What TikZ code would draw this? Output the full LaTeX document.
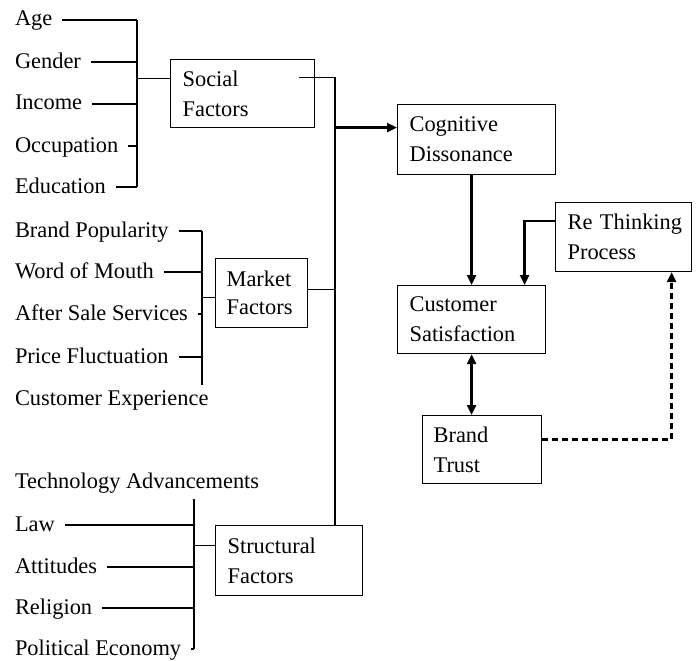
\documentclass[tikz,border=0pt]{standalone}
\usepackage{fontspec}
\setmainfont{Liberation Serif}
\usetikzlibrary{arrows.meta,calc}
\begin{document}
\begin{tikzpicture}[x=1pt,y=-1pt,
  ln/.style={line width=1.2pt},
  arr/.style={line width=2.4pt,-{Triangle[length=10pt,width=9pt]}},
  dbl/.style={line width=2.4pt,{Triangle[length=10pt,width=9pt]}-{Triangle[length=10pt,width=9pt]}},
  item/.style={anchor=base west,inner sep=0pt,outer xsep=10pt,text height=15pt,text depth=3pt,font=\fontsize{22.4}{30}\selectfont},
  box/.style={draw,line width=1.2pt,anchor=north west,align=left,inner xsep=12pt,inner ysep=0pt,font=\fontsize{22.4}{30}\selectfont}]
\useasboundingbox (0,0) rectangle (696,661);

% buses
\coordinate (sbus) at (137,0);
\coordinate (mkbus) at (202,0);
\coordinate (stbus) at (194,0);
\coordinate (mbus) at (335,0);

% social items
\node[item] (age) at (5,26) {Age};
\node[item] (gender) at (5,68) {Gender};
\node[item] (income) at (5,110) {Income};
\node[item] (occ) at (5,152) {Occupation};
\node[item] (edu) at (5,193) {Education};

% market items
\node[item] (bpop) at (5,237) {Brand Popularity};
\node[item] (wom) at (5,278) {Word of Mouth};
\node[item] (ass) at (5,320) {After Sale Services};
\node[item] (price) at (5,363) {Price Fluctuation};
\node[item] (cexp) at (5,405) {Customer Experience};

% structural items
\node[item] (tech) at (5,488) {Technology Advancements};
\node[item] (law) at (5,531) {Law};
\node[item] (att) at (5,573) {Attitudes};
\node[item] (rel) at (5,614) {Religion};
\node[item] (pol) at (5,655) {Political Economy};

% boxes
\node[box,text width=120pt,minimum height=68pt] (social) at (170,59) {Social\\Factors};
\node[box,inner xsep=11pt,text width=70pt,minimum height=69pt,font=\fontsize{22.4}{28}\selectfont] (market) at (215,258) {Market\\Factors};
\node[box,text width=123pt,minimum height=70pt] (structural) at (215,525) {Structural\\Factors};
\node[box,text width=134pt,minimum height=70pt] (cog) at (397,104) {Cognitive\\Dissonance};
\node[box,text width=124pt,minimum height=68pt] (cust) at (397,285) {Customer\\Satisfaction};
\node[box,text width=112pt,minimum height=69pt] (re) at (555,202) {\mbox{Re Thinking}\\Process};
\node[box,inner xsep=11pt,text width=97pt,minimum height=68pt] (brand) at (422,415) {Brand\\Trust};

% social connectors
\foreach \n in {age,gender,income,occ,edu} \draw[ln] (\n.east) -- (\n.east -| sbus);
\draw[ln] (sbus |- age.east) -- (sbus |- edu.east);
\coordinate (sin) at ([yshift=15pt]social.west);
\draw[ln] (sin -| sbus) -- (sin);

% market connectors
\foreach \n in {bpop,wom,ass,price} \draw[ln] (\n.east) -- (\n.east -| mkbus);
\coordinate (mkend) at ([yshift=5pt]cexp.north);
\draw[ln] (mkbus |- bpop.east) -- (mkbus |- mkend);
\coordinate (min) at ([yshift=-4pt]market.west);
\draw[ln] (min -| mkbus) -- (min);

% structural connectors
\foreach \n in {law,att,rel,pol} \draw[ln] (\n.east) -- (\n.east -| stbus);
\coordinate (sttop) at ([yshift=-8pt]tech.south);
\draw[ln] (stbus |- sttop) -- (stbus |- pol.east);
\coordinate (stin) at ([yshift=15pt]structural.west);
\draw[ln] (stin -| stbus) -- (stin);

% main bus
\coordinate (sout) at ([xshift=-16pt,yshift=16pt]social.east);
\draw[ln] (sout) -| (structural.north -| mbus);
\coordinate (mout) at ([yshift=4pt]market.east);
\draw[ln] (mout) -- (mout -| mbus);

% right side
\coordinate (cin) at ([yshift=12pt]cog.west);
\draw[arr] (cin -| mbus) -- (cin);
\draw[arr] (cust.north |- cog.south) -- (cust.north);
\coordinate (rout) at ([yshift=16pt]re.west);
\coordinate (cin2) at ([xshift=53pt]cust.north);
\draw[arr] (rout) -| (cin2);
\draw[dbl] (cust.south) -- (cust.south |- brand.north);
\coordinate (bout) at ([yshift=10pt]brand.east);
\coordinate (rin) at ([xshift=48pt]re.south);
\draw[arr,dash pattern=on 6pt off 4pt] (bout) -| (rin);
\end{tikzpicture}
\end{document}
